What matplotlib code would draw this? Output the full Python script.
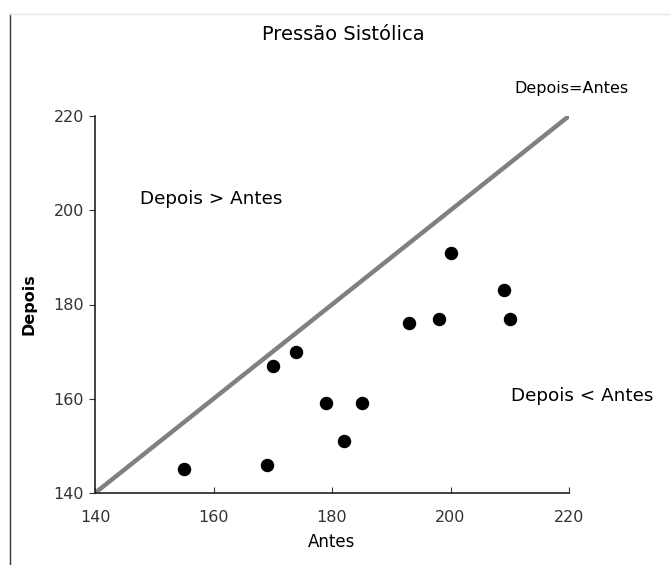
import matplotlib
matplotlib.use("Agg")
from matplotlib import pyplot as plt
from matplotlib.lines import Line2D

# values
antes = [155, 169, 170, 174, 179, 182, 185, 193, 198, 200, 209, 210]
depois = [145, 146, 167, 170, 159, 151, 159, 176, 177, 191, 183, 177]
ref_line = [140, 220]
ticks = [140, 160, 180, 200, 220]

plt.rcParams['font.family'] = ['DejaVu Sans']

fig = plt.figure(figsize=(6.71, 5.65), dpi=100)
ax = fig.add_axes([95 / 671, 72 / 565, 474 / 671, 377 / 565])

ax.plot(ref_line, ref_line, color='#808080', lw=3.2, solid_capstyle='butt', zorder=2)
ax.scatter(antes, depois, s=75, color='black', zorder=3)

ax.set_xlim(140, 220)
ax.set_ylim(140, 220)
ax.set_xticks(ticks)
ax.set_yticks(ticks)
for s in ['top', 'right']:
    ax.spines[s].set_visible(False)
for s in ['left', 'bottom']:
    ax.spines[s].set_linewidth(1.2)
    ax.spines[s].set_color('#222222')
ax.tick_params(axis='x', direction='in', length=4, labelsize=11.5, pad=12, colors='#333333')
ax.tick_params(axis='y', direction='out', length=4, labelsize=11.5, pad=4, colors='#333333')

ax.set_xlabel('Antes', fontsize=12, labelpad=6)
ax.set_ylabel('Depois', fontsize=11.5, fontweight='bold', labelpad=12)

fig.text(343 / 671, 1 - 35 / 565, 'Pressão Sistólica', ha='center', va='center', fontsize=14)
fig.text(571 / 671, 1 - 88 / 565, 'Depois=Antes', ha='center', va='center', fontsize=11.5)
fig.text(211 / 671, 1 - 199 / 565, 'Depois > Antes', ha='center', va='center', fontsize=13.2)
fig.text(582 / 671, 1 - 396 / 565, 'Depois < Antes', ha='center', va='center', fontsize=13.2)

# frame of the scanned chart area
fig.add_artist(Line2D([10 / 671, 10 / 671], [0, 1 - 14 / 565], transform=fig.transFigure,
                      color='#333333', lw=1.0))
fig.add_artist(Line2D([10 / 671, 1], [1 - 14 / 565, 1 - 14 / 565], transform=fig.transFigure,
                      color='#e6e6e6', lw=1.0))

fig.savefig('out.png', dpi=100)
